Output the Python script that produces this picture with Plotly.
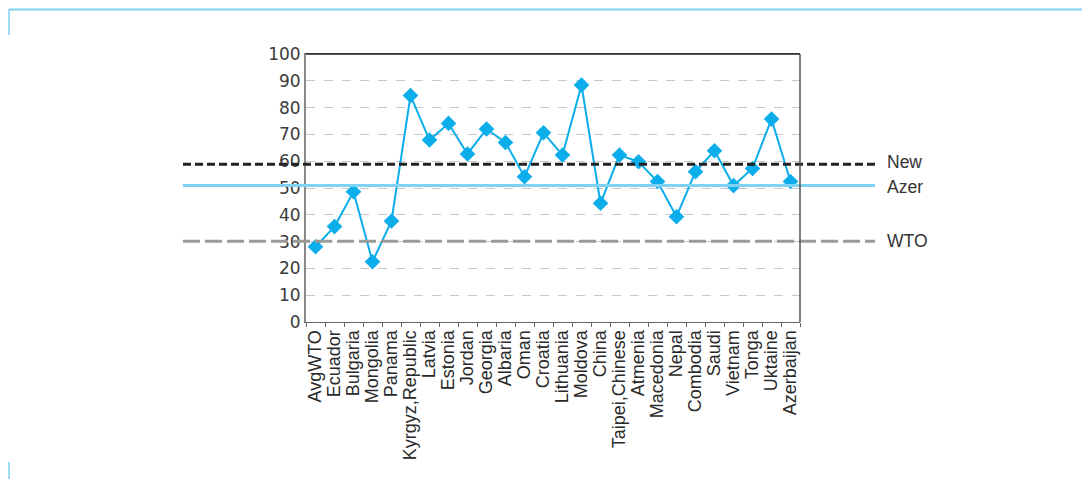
import plotly.graph_objects as go

categories = ["AvgWTO", "Ecuador", "Bulgaria", "Mongolia", "Panama", "Kyrgyz,Republic",
              "Latvia", "Estonia", "Jordan", "Georgia", "Albaria", "Oman", "Croatia",
              "Lithuania", "Moldova", "China", "Taipei,Chinese", "Atmenia", "Macedonia",
              "Nepal", "Combodia", "Saudi", "Vietnam", "Tonga", "Uktaine", "Azerbaijan"]
values = [28.1, 35.6, 48.6, 22.5, 37.7, 84.5, 67.9, 74.1, 62.7, 72.0, 67.0, 54.2, 70.6,
          62.3, 88.4, 44.3, 62.3, 59.8, 52.4, 39.3, 56.1, 63.9, 50.9, 57.3, 75.7, 52.4]

ref_names = ["New", "Azer", "WTO"]
ref_values = [58.9, 50.9, 30.1]
ref_colors = ["#222222", "#7fd2f3", "#9a9a9a"]
ref_dash = ["8px,4px", "solid", "17px,5px"]

y_ticks = list(range(0, 101, 10))

W, H = 1082, 479
L, R, T, B = 306, 800, 54, 322

fig = go.Figure()
fig.add_trace(go.Scatter(
    x=categories, y=values, mode="lines+markers",
    line=dict(color="#0badea", width=2),
    marker=dict(symbol="diamond", size=12, color="#0badea"),
    showlegend=False, cliponaxis=False,
))

x0 = (183 - L) / (R - L)
x1 = (875 - L) / (R - L)
for name, v, c, d in zip(ref_names, ref_values, ref_colors, ref_dash):
    fig.add_shape(type="line", xref="paper", yref="y", x0=x0, x1=x1, y0=v, y1=v,
                  line=dict(color=c, width=3, dash=d), layer="above")
label_y = [ref_values[0] + 0.8, ref_values[1] - 0.5, ref_values[2]]
for name, yy in zip(ref_names, label_y):
    fig.add_annotation(xref="paper", yref="y", x=(885 - L) / (R - L), y=yy, text=name,
                       showarrow=False, xanchor="left", yanchor="middle",
                       font=dict(size=17.5, color="#333333"))

# decorative frame
def px(xp):
    return (xp - L) / (R - L)

def py(yp):
    return (B - yp) / (B - T)

frame = "#7fd2f3"
fig.add_shape(type="line", xref="paper", yref="paper", x0=px(9), x1=px(1082), y0=py(9.5), y1=py(9.5),
              line=dict(color=frame, width=2))
fig.add_shape(type="line", xref="paper", yref="paper", x0=px(9), x1=px(9), y0=py(9), y1=py(35),
              line=dict(color=frame, width=1.5))
fig.add_shape(type="line", xref="paper", yref="paper", x0=px(9), x1=px(9), y0=py(462), y1=py(479),
              line=dict(color=frame, width=1.5))

fig.update_layout(
    width=W, height=H,
    margin=dict(l=L, r=W - R, t=T, b=H - B, pad=0),
    paper_bgcolor="white", plot_bgcolor="white",
    font=dict(family="Liberation Sans, Arial, sans-serif", color="#333333"),
    xaxis=dict(
        type="category", tickangle=-90,
        tickmode="array", tickvals=categories, ticktext=categories,
        tickfont=dict(size=18, color="#2a2a2a", family="Liberation Sans, Arial, sans-serif"),
        showline=True, linecolor="#666666", linewidth=1, mirror=True,
        ticks="outside", ticklen=4, tickcolor="#666666", tickson="boundaries",
        showgrid=False, range=[-0.5, len(categories) - 0.5],
    ),
    yaxis=dict(
        range=[0, 100], tickvals=y_ticks,
        tickfont=dict(size=17, color="#3a3a3a", family="DejaVu Sans, sans-serif"),
        showline=True, linecolor="#888888", linewidth=2, mirror=False,
        showgrid=True, gridcolor="#c8c8c8", griddash="dash", gridwidth=1,
        ticks="", zeroline=False,
    ),
)
# top and right border
fig.add_shape(type="line", xref="paper", yref="paper", x0=0, x1=1, y0=1, y1=1,
              line=dict(color="#222222", width=1.5))
fig.add_shape(type="line", xref="paper", yref="paper", x0=1, x1=1, y0=0, y1=1,
              line=dict(color="#555555", width=1.5))

fig.write_html("out.html")
